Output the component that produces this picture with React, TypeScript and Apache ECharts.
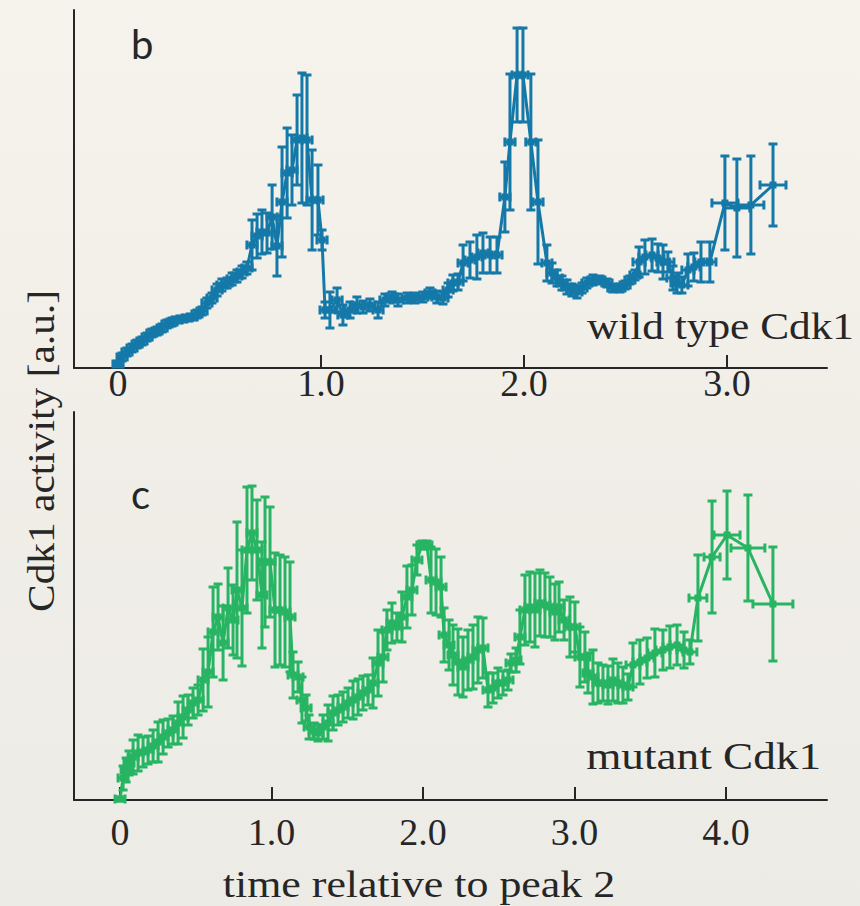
import React, { useEffect, useRef } from "react";
import * as echarts from "echarts";

// ---------- wild type Cdk1 (panel b) ----------
const wtTime = [
  0.0, 0.02, 0.044, 0.069, 0.094, 0.118, 0.143, 0.167, 0.192, 0.217,
  0.241, 0.266, 0.291, 0.315, 0.34, 0.365, 0.389, 0.414, 0.438, 0.463,
  0.488, 0.512, 0.537, 0.562, 0.586, 0.611, 0.635, 0.66, 0.685, 0.709,
  0.734, 0.759, 0.783, 0.808, 0.833, 0.857, 0.882, 0.906, 0.931, 0.956,
  0.985, 1.005, 1.02, 1.044, 1.079, 1.108, 1.143, 1.177, 1.207, 1.241,
  1.281, 1.315, 1.35, 1.379, 1.424, 1.463, 1.502, 1.537, 1.571, 1.601,
  1.626, 1.65, 1.675, 1.7, 1.734, 1.768, 1.798, 1.833, 1.867, 1.906,
  1.931, 1.966, 1.995, 2.034, 2.069, 2.113, 2.138, 2.163, 2.187, 2.212,
  2.236, 2.261, 2.286, 2.31, 2.34, 2.374, 2.409, 2.438, 2.473, 2.498,
  2.522, 2.547, 2.567, 2.596, 2.631, 2.66, 2.685, 2.709, 2.734, 2.754,
  2.778, 2.808, 2.837, 2.872, 2.916, 2.99, 3.049, 3.118, 3.227,
];
const wtValue = [
  1.0, 2.75, 4.0, 5.0, 6.0, 6.75, 7.75, 8.75, 9.25, 10.0,
  11.0, 11.5, 12.0, 12.25, 12.5, 12.75, 13.5, 14.25, 16.25, 17.5,
  19.5, 20.75, 21.25, 22.25, 23.0, 24.0, 25.0, 30.75, 33.0, 34.0,
  33.75, 37.75, 30.5, 41.5, 48.75, 49.5, 57.0, 57.5, 57.0, 42.0,
  42.0, 32.0, 14.5, 14.5, 17.0, 13.25, 14.5, 15.75, 15.25, 15.75,
  14.5, 17.0, 17.75, 17.0, 17.5, 17.5, 17.75, 18.75, 17.75, 17.5,
  19.5, 21.25, 21.5, 26.25, 27.0, 27.75, 28.75, 28.25, 28.25, 42.75,
  56.5, 73.25, 73.25, 56.5, 41.5, 26.25, 23.75, 22.5, 21.25, 20.25,
  19.5, 19.0, 20.0, 21.25, 22.0, 22.0, 21.25, 20.0, 20.0, 20.75,
  22.0, 23.25, 26.5, 27.75, 28.25, 27.5, 26.5, 26.5, 22.5, 21.25,
  20.75, 24.5, 25.25, 26.5, 26.5, 41.25, 40.0, 40.75, 45.75,
];
const wtErrY = [
  0.75, 1, 1, 1, 1, 1, 1, 1, 1, 1,
  1, 1, 0.75, 0.75, 0.75, 0.75, 1, 1, 1.25, 1.25,
  1.5, 1.5, 1.25, 1.5, 1.5, 1.5, 1.5, 6.25, 5.5, 5.5,
  5, 8, 7.5, 13.75, 11.25, 8.75, 11.25, 16.25, 16.25, 12.5,
  8.75, 2.5, 2, 4.5, 3, 2.5, 2, 2, 1.5, 1.5,
  2, 1.5, 1.25, 1.5, 1.25, 1.25, 1.25, 1.25, 1.5, 1.5,
  1.75, 2, 2, 4.5, 4.5, 5.5, 5, 4.5, 4.5, 8.75,
  17, 11.75, 11.75, 17, 15.5, 4.5, 2.5, 2, 1.75, 1.75,
  1.5, 1.5, 1.25, 1.25, 1.25, 1, 1, 1, 1, 1,
  1, 1.25, 3.75, 4.25, 4, 3.5, 4.25, 2.5, 3, 2.5,
  2, 4, 3.5, 5, 5, 11.75, 12.25, 12.25, 10.25,
];
const wtErrX = [
  0.025, 0.025, 0.025, 0.025, 0.025, 0.025, 0.025, 0.025, 0.025, 0.025,
  0.025, 0.025, 0.025, 0.025, 0.025, 0.025, 0.025, 0.025, 0.025, 0.025,
  0.025, 0.025, 0.025, 0.025, 0.025, 0.025, 0.025, 0.025, 0.025, 0.025,
  0.025, 0.025, 0.025, 0.025, 0.025, 0.025, 0.025, 0.025, 0.025, 0.025,
  0.025, 0.025, 0.025, 0.025, 0.025, 0.025, 0.025, 0.025, 0.025, 0.025,
  0.025, 0.025, 0.025, 0.025, 0.025, 0.025, 0.025, 0.025, 0.025, 0.025,
  0.025, 0.025, 0.025, 0.025, 0.025, 0.025, 0.025, 0.025, 0.025, 0.025,
  0.025, 0.025, 0.025, 0.025, 0.025, 0.025, 0.025, 0.025, 0.025, 0.025,
  0.025, 0.025, 0.025, 0.025, 0.025, 0.025, 0.025, 0.025, 0.025, 0.025,
  0.025, 0.025, 0.03, 0.03, 0.03, 0.03, 0.03, 0.03, 0.03, 0.03,
  0.03, 0.03, 0.03, 0.03, 0.03, 0.064, 0.064, 0.064, 0.064,
];

// ---------- mutant Cdk1 (panel c) ----------
const mutTime = [
  0.0, 0.02, 0.04, 0.059, 0.086, 0.119, 0.152, 0.185, 0.218, 0.251,
  0.284, 0.317, 0.35, 0.383, 0.416, 0.449, 0.482, 0.515, 0.548, 0.581,
  0.614, 0.647, 0.68, 0.713, 0.746, 0.772, 0.805, 0.838, 0.871, 0.904,
  0.937, 0.957, 0.99, 1.023, 1.056, 1.089, 1.122, 1.142, 1.175, 1.201,
  1.228, 1.248, 1.281, 1.307, 1.34, 1.373, 1.406, 1.439, 1.472, 1.505,
  1.538, 1.571, 1.604, 1.637, 1.67, 1.703, 1.736, 1.762, 1.795, 1.828,
  1.861, 1.894, 1.927, 1.96, 1.993, 2.026, 2.053, 2.086, 2.119, 2.139,
  2.172, 2.198, 2.231, 2.264, 2.297, 2.33, 2.363, 2.396, 2.429, 2.462,
  2.495, 2.528, 2.561, 2.581, 2.614, 2.64, 2.673, 2.706, 2.739, 2.772,
  2.805, 2.838, 2.871, 2.898, 2.931, 2.97, 3.003, 3.036, 3.069, 3.089,
  3.122, 3.155, 3.188, 3.221, 3.254, 3.287, 3.32, 3.353, 3.386, 3.432,
  3.479, 3.531, 3.584, 3.63, 3.677, 3.723, 3.762, 3.815, 3.908, 4.007,
  4.145, 4.31,
];
const mutValue = [
  0.25, 5.5, 7.5, 9.25, 10.75, 11.75, 12.0, 12.5, 13.5, 14.5,
  15.75, 16.75, 17.5, 19.25, 20.75, 22.5, 24.25, 25.0, 30.0, 32.0,
  42.0, 45.75, 39.25, 48.0, 45.0, 52.5, 48.0, 62.5, 66.75, 62.5,
  51.25, 59.5, 59.5, 47.5, 47.5, 47.0, 45.75, 31.25, 30.75, 25.0,
  23.0, 18.25, 17.25, 16.75, 18.25, 19.25, 21.75, 22.5, 23.25, 24.25,
  25.0, 25.75, 26.75, 27.5, 29.25, 34.25, 35.75, 42.5, 44.25, 43.25,
  45.75, 50.75, 52.5, 60.0, 63.75, 63.75, 55.0, 54.5, 53.25, 41.25,
  38.75, 36.25, 34.5, 33.25, 35.0, 35.75, 37.5, 38.0, 27.5, 28.0,
  29.25, 29.25, 30.0, 34.25, 35.0, 40.75, 47.5, 48.25, 47.5, 49.25,
  48.75, 48.25, 47.0, 48.25, 45.0, 43.25, 43.25, 35.75, 35.75, 31.75,
  30.75, 29.25, 29.25, 28.75, 30.0, 29.25, 28.75, 28.25, 33.75, 34.5,
  35.5, 36.75, 37.5, 38.25, 38.75, 37.5, 37.0, 50.5, 60.75, 66.25,
  63.0, 49.0,
];
const mutErrY = [
  0.5, 3, 3, 3, 4.25, 4.5, 3.75, 3.5, 4, 5,
  4.25, 3.5, 3.5, 5.25, 5.25, 3.75, 3.75, 3.75, 7.75, 8.75,
  11.25, 8.25, 9.25, 10, 8.75, 17, 14.5, 15.75, 11.75, 12.5,
  13.25, 16.25, 13.75, 14.25, 13.75, 13.75, 13.75, 5.75, 3.75, 5.75,
  3.25, 3, 2, 2, 3, 4.5, 4.25, 3.75, 3.75, 3.75,
  4.75, 4.5, 4.25, 3.75, 6.25, 8.25, 6.25, 5, 5, 3.5,
  6.25, 7.75, 6.25, 3.75, 1, 1, 8.25, 8.25, 7.5, 6.75,
  6.25, 7.5, 8.25, 7.5, 7.5, 8, 8.25, 7.5, 4.25, 3.75,
  3.75, 3, 2.5, 2.25, 3, 6.75, 8.75, 8.75, 9.25, 8.25,
  8, 7.5, 7, 6.25, 5, 7.5, 6.25, 7.5, 6.25, 5,
  6.75, 5, 4.5, 4.75, 5.25, 5, 4.5, 3.25, 5.5, 5.5,
  5, 6, 5, 5.25, 5, 4.5, 3, 10.75, 14, 11,
  13.25, 14.25,
];
const mutErrX = [
  0.033, 0.033, 0.033, 0.033, 0.033, 0.033, 0.033, 0.033, 0.033, 0.033,
  0.033, 0.033, 0.033, 0.033, 0.033, 0.033, 0.033, 0.033, 0.033, 0.033,
  0.033, 0.033, 0.033, 0.033, 0.033, 0.033, 0.033, 0.033, 0.033, 0.033,
  0.033, 0.033, 0.033, 0.033, 0.033, 0.033, 0.033, 0.033, 0.033, 0.033,
  0.033, 0.033, 0.033, 0.033, 0.033, 0.033, 0.033, 0.033, 0.033, 0.033,
  0.033, 0.033, 0.033, 0.033, 0.033, 0.033, 0.033, 0.033, 0.033, 0.033,
  0.033, 0.033, 0.033, 0.033, 0.033, 0.033, 0.033, 0.033, 0.033, 0.033,
  0.033, 0.033, 0.033, 0.033, 0.033, 0.033, 0.033, 0.033, 0.033, 0.033,
  0.033, 0.033, 0.033, 0.033, 0.033, 0.033, 0.033, 0.033, 0.033, 0.033,
  0.033, 0.033, 0.033, 0.033, 0.033, 0.033, 0.033, 0.033, 0.033, 0.033,
  0.033, 0.033, 0.033, 0.033, 0.033, 0.033, 0.033, 0.033, 0.046, 0.046,
  0.046, 0.046, 0.046, 0.046, 0.046, 0.046, 0.046, 0.059, 0.053, 0.086,
  0.112, 0.132,
];

const wtTicks = [0, 1, 2, 3];
const mutTicks = [0, 1, 2, 3, 4];

const BLUE = "#1479a8";
const GREEN = "#27b463";
const INK = "#262626";
const SERIF = "Liberation Serif";
const SANS = "Lato";

function errRender(color: string) {
  return (params: any, api: any) => {
    const x = api.value(0);
    const y = api.value(1);
    const ye = api.value(2);
    const xe = api.value(3);
    const top = api.coord([x, y + ye]);
    const bot = api.coord([x, y - ye]);
    const lft = api.coord([x - xe, y]);
    const rgt = api.coord([x + xe, y]);
    const c = 4.5;
    const style = { stroke: color, lineWidth: 3, fill: null };
    const ln = (x1: number, y1: number, x2: number, y2: number) => ({
      type: "line",
      shape: { x1, y1, x2, y2 },
      style,
    });
    return {
      type: "group",
      children: [
        ln(top[0], top[1], bot[0], bot[1]),
        ln(top[0] - c, top[1], top[0] + c, top[1]),
        ln(bot[0] - c, bot[1], bot[0] + c, bot[1]),
        ln(lft[0], lft[1], rgt[0], rgt[1]),
        ln(lft[0], lft[1] - c, lft[0], lft[1] + c),
        ln(rgt[0], rgt[1] - c, rgt[0], rgt[1] + c),
      ],
    };
  };
}

const tickFmt = (v: number) => (v === 0 ? "0" : v.toFixed(1));

export default function App() {
  const ref = useRef<HTMLDivElement>(null);
  useEffect(() => {
    if (!ref.current) return;
    const chart = echarts.init(ref.current, undefined, { renderer: "svg" });
    const wtData = wtTime.map((t, i) => [t, wtValue[i], wtErrY[i], wtErrX[i]]);
    const mutData = mutTime.map((t, i) => [t, mutValue[i], mutErrY[i], mutErrX[i]]);
    const axisLine = { show: true, lineStyle: { color: INK, width: 2 } };
    const xAxisBase = (ticks: number[], min: number, max: number, gi: number, margin: number) => ({
      type: "value",
      gridIndex: gi,
      min,
      max,
      axisLine: { ...axisLine, onZero: false },
      axisTick: {
        show: true,
        inside: true,
        length: 13,
        customValues: ticks,
        lineStyle: { color: INK, width: 2 },
      },
      axisLabel: {
        show: true,
        customValues: ticks,
        formatter: tickFmt,
        color: INK,
        fontFamily: SERIF,
        fontSize: 38,
        margin,
      },
      splitLine: { show: false },
    });
    const yAxisBase = (gi: number, max: number) => ({
      type: "value",
      gridIndex: gi,
      min: 0,
      max,
      axisLine: { ...axisLine, onZero: false },
      axisTick: { show: false },
      axisLabel: { show: false },
      splitLine: { show: false },
    });
    chart.setOption({
      animation: false,
      backgroundColor: "transparent",
      textStyle: { fontFamily: SERIF },
      grid: [
        { left: 74, top: 10, width: 753, height: 358 },
        { left: 74, top: 412, width: 753, height: 388 },
      ],
      xAxis: [
        xAxisBase(wtTicks, -0.217, 3.493, 0, -4),
        xAxisBase(mutTicks, -0.304, 4.667, 1, 13),
      ],
      yAxis: [yAxisBase(0, 89.5), yAxisBase(1, 97)],
      series: [
        {
          type: "line",
          xAxisIndex: 0,
          yAxisIndex: 0,
          data: wtData.map((d) => [d[0], d[1]]),
          lineStyle: { color: BLUE, width: 3 },
          itemStyle: { color: BLUE },
          symbol: "rect",
          symbolSize: 7,
          z: 2,
        },
        {
          type: "custom",
          xAxisIndex: 0,
          yAxisIndex: 0,
          data: wtData,
          encode: { x: 0, y: 1 },
          renderItem: errRender(BLUE),
          z: 3,
        },
        {
          type: "line",
          xAxisIndex: 1,
          yAxisIndex: 1,
          data: mutData.map((d) => [d[0], d[1]]),
          lineStyle: { color: GREEN, width: 3 },
          itemStyle: { color: GREEN },
          symbol: "rect",
          symbolSize: 7,
          z: 2,
        },
        {
          type: "custom",
          xAxisIndex: 1,
          yAxisIndex: 1,
          data: mutData,
          encode: { x: 0, y: 1 },
          renderItem: errRender(GREEN),
          z: 3,
        },
      ],
      graphic: [
        {
          type: "text",
          x: 131,
          y: 24,
          style: { text: "b", fontFamily: SANS, fontSize: 40, fill: INK },
        },
        {
          type: "text",
          x: 131,
          y: 474,
          style: { text: "c", fontFamily: SANS, fontSize: 40, fill: INK },
        },
        {
          type: "text",
          x: 854,
          y: 345,
          scaleX: 1.14,
          style: {
            text: "wild type Cdk1",
            fontFamily: SERIF,
            fontSize: 38,
            fill: INK,
            align: "right",
            verticalAlign: "bottom",
          },
        },
        {
          type: "text",
          x: 821,
          y: 775,
          scaleX: 1.19,
          style: {
            text: "mutant Cdk1",
            fontFamily: SERIF,
            fontSize: 38,
            fill: INK,
            align: "right",
            verticalAlign: "bottom",
          },
        },
        {
          type: "text",
          x: 42,
          y: 451,
          rotation: Math.PI / 2,
          scaleX: 1.09,
          style: {
            text: "Cdk1 activity [a.u.]",
            fontFamily: SERIF,
            fontSize: 38,
            fill: INK,
            align: "center",
            verticalAlign: "middle",
          },
        },
        {
          type: "text",
          x: 419,
          y: 884,
          scaleX: 1.155,
          style: {
            text: "time relative to peak 2",
            fontFamily: SERIF,
            fontSize: 38,
            fill: INK,
            align: "center",
            verticalAlign: "middle",
          },
        },
      ],
    });
    return () => chart.dispose();
  }, []);
  return (
    <div
      ref={ref}
      style={{
        position: "fixed",
        left: 0,
        top: 0,
        width: 860,
        height: 906,
        background: "linear-gradient(180deg, #f6f3ec 0%, #f1eee8 50%, #ecebe6 100%)",
      }}
    />
  );
}
